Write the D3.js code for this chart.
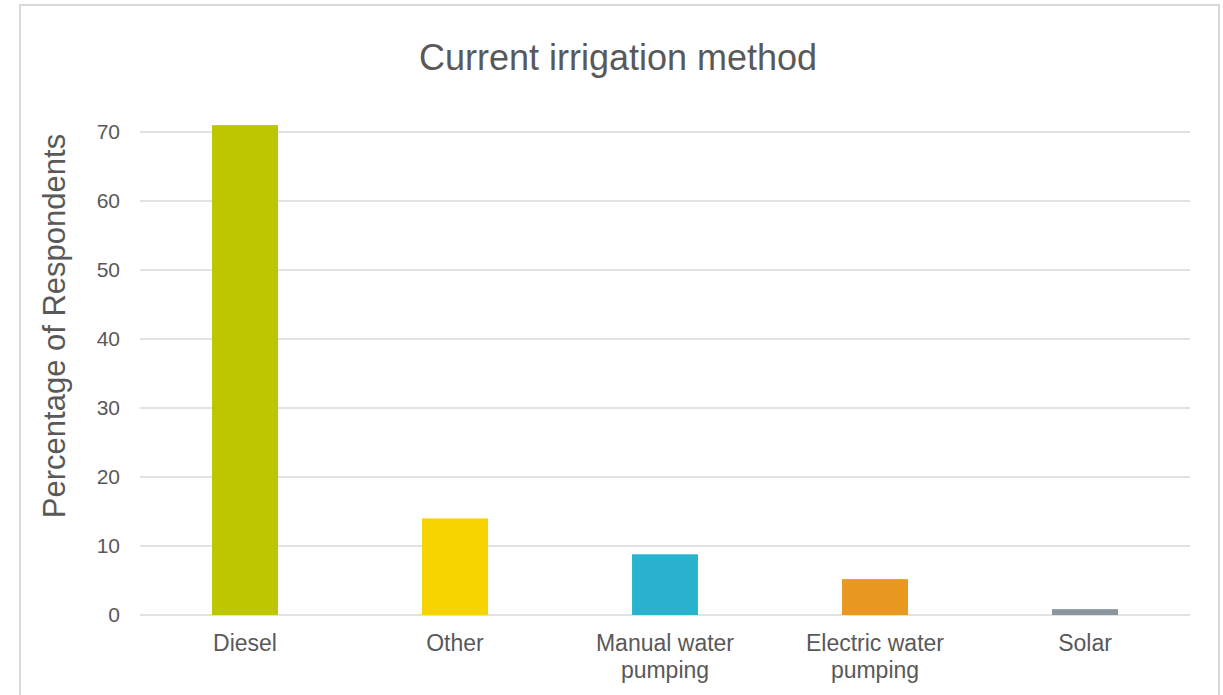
<!DOCTYPE html>
<html>
<head>
<meta charset="utf-8">
<script src="https://cdn.jsdelivr.net/npm/d3@7"></script>
<style>
  html, body { margin: 0; padding: 0; background: #fff; }
  svg { display: block; font-family: "Liberation Sans", Arial, Helvetica, sans-serif; }
</style>
</head>
<body>
<svg id="chart" width="1223" height="695"></svg>
<script>
// Irrigation methods and share of respondents (%)
const categories = ["Diesel", "Other", "Manual water pumping", "Electric water pumping", "Solar"];
const values = [71.0, 14.0, 8.8, 5.2, 0.85];
const colors = ["#bec600", "#f7d300", "#29b3cf", "#e99820", "#8a959e"];
const yTicks = [0, 10, 20, 30, 40, 50, 60, 70];

const svg = d3.select("#chart");
const plot = { left: 140, right: 1190, top: 132, bottom: 615 };

// outer chart frame
svg.append("rect")
  .attr("x", 20).attr("y", 5)
  .attr("width", 1199).attr("height", 700)
  .attr("fill", "#fff")
  .attr("stroke", "#d9d9d9").attr("stroke-width", 2);

const x = d3.scaleBand()
  .domain(categories)
  .range([plot.left, plot.right])
  .paddingInner(0.686)
  .paddingOuter(0.343);

const y = d3.scaleLinear()
  .domain([0, 70])
  .range([plot.bottom, plot.top]);

// gridlines
svg.append("g")
  .selectAll("line")
  .data(yTicks)
  .join("line")
  .attr("x1", plot.left).attr("x2", plot.right)
  .attr("y1", d => y(d)).attr("y2", d => y(d))
  .attr("stroke", "#d9d9d9").attr("stroke-width", 1.5);

// y axis labels
const yAxis = d3.axisLeft(y).tickValues(yTicks).tickSize(0).tickPadding(0);
const gy = svg.append("g")
  .attr("transform", `translate(${plot.left - 20},0)`)
  .call(yAxis);
gy.select(".domain").remove();
gy.selectAll("text")
  .attr("fill", "#595959")
  .style("font-size", "21px")
  .style("font-family", "'Liberation Sans', Arial, sans-serif");

// bars
svg.append("g")
  .selectAll("rect")
  .data(categories)
  .join("rect")
  .attr("x", d => x(d))
  .attr("width", x.bandwidth())
  .attr("y", (d, i) => y(values[i]))
  .attr("height", (d, i) => y(0) - y(values[i]))
  .attr("fill", (d, i) => colors[i]);

// category labels (wrapped to two lines where needed)
const wrap = {
  "Manual water pumping": ["Manual water", "pumping"],
  "Electric water pumping": ["Electric water", "pumping"]
};
const xl = svg.append("g");
categories.forEach(c => {
  const lines = wrap[c] || [c];
  const cx = x(c) + x.bandwidth() / 2;
  const t = xl.append("text")
    .attr("x", cx)
    .attr("y", 651)
    .attr("text-anchor", "middle")
    .attr("fill", "#595959")
    .style("font-size", "23px");
  lines.forEach((ln, i) => {
    t.append("tspan")
      .attr("x", cx)
      .attr("dy", i === 0 ? 0 : 27)
      .text(ln);
  });
});

// title
svg.append("text")
  .attr("x", 618).attr("y", 70)
  .attr("text-anchor", "middle")
  .attr("fill", "#595959")
  .style("font-size", "36px")
  .text("Current irrigation method");

// y axis title
svg.append("text")
  .attr("transform", `translate(65,326) rotate(-90)`)
  .attr("text-anchor", "middle")
  .attr("fill", "#595959")
  .style("font-size", "31px")
  .text("Percentage of Respondents");
</script>
</body>
</html>
